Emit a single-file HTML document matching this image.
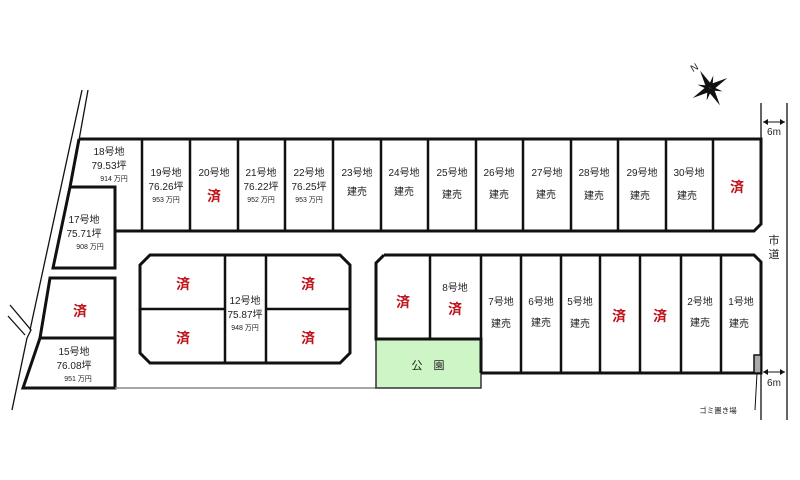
<!DOCTYPE html>
<html><head><meta charset="utf-8"><style>
body{margin:0;background:#fff}
svg{display:block}
text{font-family:"Liberation Sans","Noto Sans CJK JP",sans-serif;fill:#222;text-anchor:middle}
.n{font-size:10px}
.p{font-size:7px}
.s{font-size:14px;fill:#c0141c;font-weight:bold}
</style></head><body>
<svg width="800" height="480" viewBox="0 0 800 480" xmlns="http://www.w3.org/2000/svg">
<g stroke="#111" fill="none">
<polyline points="82,90 30,330" stroke-width="1.3"/>
<polyline points="27,338 12,410" stroke-width="1.3"/>
<polyline points="88,90 79,140" stroke-width="1.3"/>
<polyline points="10,305 31,330 27,338" stroke-width="1.3"/>
<polyline points="8,316 25,335" stroke-width="1.3"/>
<path d="M79,139 H761 V224 L754,231 H115" stroke-width="3"/>
<path d="M79,139 L70,187" stroke-width="3"/>
<path d="M70,187 H115 V268 H53 L70,187" stroke-width="3"/>
<g stroke-width="2.5">
<line x1="142" y1="139" x2="142" y2="231"/><line x1="190" y1="139" x2="190" y2="231"/>
<line x1="238" y1="139" x2="238" y2="231"/><line x1="285" y1="139" x2="285" y2="231"/>
<line x1="333" y1="139" x2="333" y2="231"/><line x1="381" y1="139" x2="381" y2="231"/>
<line x1="428" y1="139" x2="428" y2="231"/><line x1="476" y1="139" x2="476" y2="231"/>
<line x1="523" y1="139" x2="523" y2="231"/><line x1="571" y1="139" x2="571" y2="231"/>
<line x1="618" y1="139" x2="618" y2="231"/><line x1="666" y1="139" x2="666" y2="231"/>
<line x1="713" y1="139" x2="713" y2="231"/>
</g>
<path d="M50,278 H115 V338 H40 Z" stroke-width="3"/>
<path d="M40,338 H115 V388 H23 Z" stroke-width="3"/>
<line x1="115" y1="388" x2="376" y2="388" stroke="#888" stroke-width="1.5"/>
<path d="M150,255 H340 L350,265 V353 L340,363 H150 L140,353 V265 Z" stroke-width="3"/>
<line x1="140" y1="309" x2="225" y2="309" stroke-width="2.5"/>
<line x1="266" y1="309" x2="350" y2="309" stroke-width="2.5"/>
<line x1="225" y1="255" x2="225" y2="363" stroke-width="2.5"/>
<line x1="266" y1="255" x2="266" y2="363" stroke-width="2.5"/>
</g>
<rect x="376" y="339" width="105" height="49" fill="#cdf5c6" stroke="#333" stroke-width="1.5"/>
<g stroke="#111" fill="none">
<path d="M384,255 H754 L761,262 V373 H481" stroke-width="3"/>
<path d="M384,255 L376,263 V339 H481 V373" stroke-width="3"/>
<g stroke-width="2.5">
<line x1="430" y1="255" x2="430" y2="339"/><line x1="481" y1="255" x2="481" y2="373"/>
<line x1="521" y1="255" x2="521" y2="373"/><line x1="561" y1="255" x2="561" y2="373"/>
<line x1="600" y1="255" x2="600" y2="373"/><line x1="640" y1="255" x2="640" y2="373"/>
<line x1="681" y1="255" x2="681" y2="373"/><line x1="721" y1="255" x2="721" y2="373"/>
</g>
<line x1="761" y1="103" x2="761" y2="139" stroke-width="1.3"/>
<line x1="761" y1="373" x2="761" y2="420" stroke-width="1.3"/>
<line x1="787" y1="103" x2="787" y2="420" stroke-width="1.3"/>
<line x1="763" y1="122" x2="785" y2="122" stroke-width="1"/>
<line x1="763" y1="372" x2="785" y2="372" stroke-width="1"/>
<line x1="757" y1="373" x2="755" y2="410" stroke-width="1"/>
</g>
<rect x="754" y="355" width="7" height="18" fill="#aaa" stroke="#111" stroke-width="1.5"/>
<g fill="#111">
<polygon points="763,122 768,119 768,125"/><polygon points="785,122 780,119 780,125"/>
<polygon points="763,372 768,369 768,375"/><polygon points="785,372 780,369 780,375"/>
</g>
<g transform="translate(710,88) rotate(-30)">
<polygon points="0,-20 3,-3 0,0 -3,-3" fill="#111"/>
<polygon points="0,20 3,3 0,0 -3,3" fill="#111"/>
<polygon points="20,0 3,3 0,0 3,-3" fill="#111"/>
<polygon points="-20,0 -3,3 0,0 -3,-3" fill="#111"/>
<g transform="rotate(45)">
<polygon points="0,-13 2,-2 -2,-2" fill="#111"/><polygon points="0,13 2,2 -2,2" fill="#111"/>
<polygon points="13,0 2,2 2,-2" fill="#111"/><polygon points="-13,0 -2,2 -2,-2" fill="#111"/>
</g>
</g>
<text x="694" y="71" style="font-size:10px" transform="rotate(-30 694 67)">N</text>
<text class="n" x="774" y="135">6m</text>
<text class="n" x="774" y="386">6m</text>
<text class="n" x="774" y="244" style="font-size:11px">市</text>
<text class="n" x="774" y="258" style="font-size:11px">道</text>
<text x="718" y="413" style="font-size:7.5px">ゴミ置き場</text>

<text class="n" x="109" y="155">18号地</text><text class="n" x="109" y="169">79.53坪</text><text class="p" x="114" y="181">914 万円</text>
<text class="n" x="84" y="223">17号地</text><text class="n" x="84" y="237">75.71坪</text><text class="p" x="90" y="249">908 万円</text>
<text class="s" x="80" y="316">済</text>
<text class="n" x="74" y="355">15号地</text><text class="n" x="74" y="369">76.08坪</text><text class="p" x="78" y="381">951 万円</text>

<text class="n" x="166" y="176">19号地</text><text class="n" x="166" y="190">76.26坪</text><text class="p" x="166" y="202">953 万円</text>
<text class="n" x="214" y="176">20号地</text><text class="s" x="214" y="201">済</text>
<text class="n" x="261" y="176">21号地</text><text class="n" x="261" y="190">76.22坪</text><text class="p" x="261" y="202">952 万円</text>
<text class="n" x="309" y="176">22号地</text><text class="n" x="309" y="190">76.25坪</text><text class="p" x="309" y="202">953 万円</text>
<text class="n" x="357" y="176">23号地</text><text class="n" x="357" y="195">建売</text>
<text class="n" x="404" y="176">24号地</text><text class="n" x="404" y="195">建売</text>
<text class="n" x="452" y="176">25号地</text><text class="n" x="452" y="198">建売</text>
<text class="n" x="499" y="176">26号地</text><text class="n" x="499" y="198">建売</text>
<text class="n" x="547" y="176">27号地</text><text class="n" x="546" y="198">建売</text>
<text class="n" x="594" y="176">28号地</text><text class="n" x="594" y="199">建売</text>
<text class="n" x="642" y="176">29号地</text><text class="n" x="640" y="199">建売</text>
<text class="n" x="689" y="176">30号地</text><text class="n" x="687" y="199">建売</text>
<text class="s" x="737" y="192">済</text>

<text class="s" x="183" y="289">済</text><text class="s" x="308" y="289">済</text>
<text class="s" x="183" y="343">済</text><text class="s" x="308" y="343">済</text>
<text class="n" x="245" y="304">12号地</text><text class="n" x="245" y="318">75.87坪</text><text class="p" x="245" y="330">948 万円</text>

<text class="s" x="403" y="307">済</text>
<text class="n" x="455" y="291">8号地</text><text class="s" x="455" y="314">済</text>
<text class="n" x="501" y="305">7号地</text><text class="n" x="501" y="327">建売</text>
<text class="n" x="541" y="305">6号地</text><text class="n" x="541" y="326">建売</text>
<text class="n" x="580" y="305">5号地</text><text class="n" x="580" y="327">建売</text>
<text class="s" x="619" y="321">済</text><text class="s" x="660" y="321">済</text>
<text class="n" x="700" y="305">2号地</text><text class="n" x="700" y="326">建売</text>
<text class="n" x="741" y="305">1号地</text><text class="n" x="739" y="327">建売</text>
<text x="428" y="369" style="font-size:11px">公　園</text>
</svg>
</body></html>
